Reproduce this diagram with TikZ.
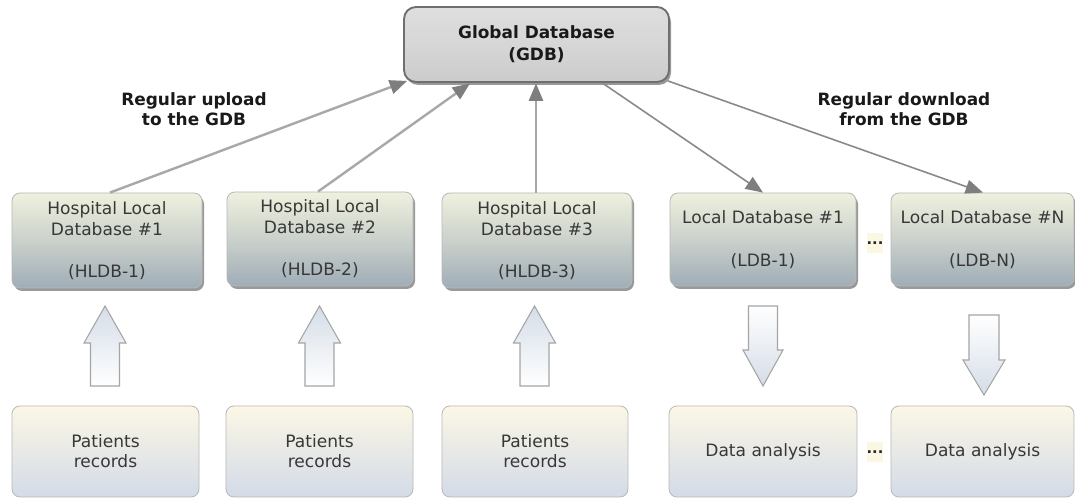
\documentclass[tikz,border=0pt]{standalone}
\usepackage{fontspec}
\setmainfont{DejaVu Sans}
\usetikzlibrary{arrows.meta,shadows,calc}
\definecolor{hTop}{HTML}{EEF1DE}
\definecolor{hMid}{HTML}{CBD1CB}
\definecolor{hBot}{HTML}{9FADB7}
\definecolor{pTop}{HTML}{FCF7E6}
\definecolor{pBot}{HTML}{D3DBE7}
\definecolor{gFill}{HTML}{D6D6D6}
\definecolor{gLine}{HTML}{6F6F6F}
\definecolor{boxLine}{HTML}{B8B8B8}
\definecolor{txt}{HTML}{383838}
\definecolor{upLine}{HTML}{A8A8A8}
\definecolor{downLine}{HTML}{8A8A8A}
\definecolor{tipCol}{HTML}{7E7E7E}
\definecolor{baBlue}{HTML}{D5DDE8}
\definecolor{baLine}{HTML}{A5A5A5}
\definecolor{dotFill}{HTML}{FBF7E2}
\begin{document}
\begin{tikzpicture}[x=0.75pt,y=-0.75pt,
  regtext/.style={text=txt,font=\fontsize{12.8}{15.75}\selectfont,align=center,inner sep=0pt},
  hbox/.style={regtext,rounded corners=6pt,draw=boxLine,line width=0.6pt,
    top color=hTop,bottom color=hBot,middle color=hMid,
    drop shadow={shadow xshift=1.5pt,shadow yshift=-2.2pt,opacity=0.4,fill=black}},
  pbox/.style={regtext,rounded corners=6pt,draw=boxLine,line width=0.6pt,
    top color=pTop,bottom color=pBot,font=\fontsize{12.8}{15}\selectfont},
  gbox/.style={rounded corners=9pt,draw=gLine,line width=1.4pt,
    top color=gFill!80!white,bottom color=gFill!95!black,middle color=gFill,
    font=\bfseries\fontsize{12.7}{16.5}\selectfont,align=center,text=black!90,
    drop shadow={shadow xshift=1.5pt,shadow yshift=-2.2pt,opacity=0.4,fill=black}},
  lbl/.style={font=\bfseries\fontsize{12.7}{15}\selectfont,align=center,text=black!90},
  dots/.style={fill=dotFill,inner sep=0pt,minimum width=12pt,minimum height=15pt,font=\bfseries\fontsize{11}{13}\selectfont,text=black!85},
  upconn/.style={draw=upLine,line width=1.8pt,-{Triangle[length=13pt,width=10.5pt,color=tipCol,fill=tipCol]}},
  downconn/.style={draw=downLine,line width=1.2pt,-{Triangle[length=13pt,width=10.5pt,color=tipCol,fill=tipCol]}},
  blockup/.style={draw=baLine,line width=0.8pt,top color=baBlue,bottom color=white},
  blockdown/.style={draw=baLine,line width=0.8pt,top color=white,bottom color=baBlue}
]
\useasboundingbox[fill=white] (0,0) rectangle (1075,498);

% Global database
\node[gbox,minimum width=198.75pt,minimum height=56.25pt] (gdb) at (536.5,44.5) {Global Database\\(GDB)};

% Hospital local databases
\node[hbox,minimum width=142.5pt,minimum height=71.25pt] (h1) at (107,240.5) {Hospital Local\\Database \#1\\[15.75pt](HLDB-1)};
\node[hbox,minimum width=139.5pt,minimum height=70.5pt] (h2) at (320,239) {Hospital Local\\Database \#2\\[15.75pt](HLDB-2)};
\node[hbox,minimum width=142.5pt,minimum height=71.25pt] (h3) at (537,240.5) {Hospital Local\\Database \#3\\[15.75pt](HLDB-3)};

% Local databases
\node[hbox,minimum width=139.5pt,minimum height=69.75pt] (l1) at (763,239.5) {Local Database \#1\\[16pt](LDB-1)};
\node[hbox,minimum width=137.25pt,minimum height=69.75pt] (ln) at (982.5,239.5) {Local Database \#N\\[16pt](LDB-N)};
\node[dots] (d1) at (875,243) {...};

% Bottom row
\node[pbox,minimum width=140.25pt,minimum height=68.25pt] (p1) at (105.5,451.5) {Patients\\records};
\node[pbox,minimum width=140.25pt,minimum height=68.25pt] (p2) at (319.5,451.5) {Patients\\records};
\node[pbox,minimum width=139.5pt,minimum height=68.25pt] (p3) at (535,451.5) {Patients\\records};
\node[pbox,minimum width=141pt,minimum height=68.25pt] (a1) at (763,451.5) {Data analysis};
\node[pbox,minimum width=137.25pt,minimum height=68.25pt] (an) at (982.5,451.5) {Data analysis};
\node[dots] (d2) at (875,452.5) {...};

% Labels
\node[lbl] (up) at (194,109) {Regular upload\\to the GDB};
\node[lbl] (down) at (904,109) {Regular download\\from the GDB};

% Connectors
\draw[upconn] ($(h1.north)+(3,0)$) -- ($(gdb.south west)+(4,-2)$);
\draw[upconn] ($(h2.north)+(-2,0)$) -- ($(gdb.south)+(-66.5,0.5)$);
\draw[upconn] ($(h3.north)+(-1,0)$) -- ($(gdb.south)+(-0.5,0.5)$);
\draw[downconn] ($(gdb.south)+(66.5,0.5)$) -- (l1.north);
\draw[downconn] ($(gdb.south east)+(-2,-2)$) -- ($(ln.north)+(0.5,0)$);

% Block arrows (up)
\foreach \c in {105,319.5,534.5}{
  \path[blockup] (\c,306) -- (\c+21,343) -- (\c+14.5,343) -- (\c+14.5,386)
     -- (\c-14.5,386) -- (\c-14.5,343) -- (\c-21,343) -- cycle;
}
% Block arrows (down)
\path[blockdown] (748.5,306) -- (777.5,306) -- (777.5,350) -- (783,350) -- (763,386)
   -- (743,350) -- (748.5,350) -- cycle;
\path[blockdown] (969,315) -- (999,315) -- (999,360) -- (1005,360) -- (984,395)
   -- (963,360) -- (969,360) -- cycle;
\end{tikzpicture}
\end{document}
